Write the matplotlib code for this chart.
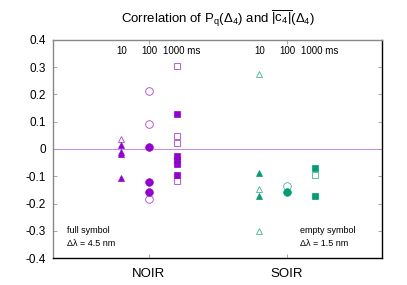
import matplotlib
matplotlib.use("Agg")
import matplotlib.pyplot as plt

plt.rcParams['font.family'] = ['Liberation Sans', 'DejaVu Sans']
plt.rcParams['mathtext.fontset'] = 'custom'
plt.rcParams['mathtext.rm'] = 'Liberation Sans'
plt.rcParams['mathtext.it'] = 'Liberation Sans'

categories = ["NOIR", "SOIR"]
timescales = ["10", "100", "1000 ms"]
yticks = [-0.4, -0.3, -0.2, -0.1, 0, 0.1, 0.2, 0.3, 0.4]

# full symbol: dl = 4.5 nm, empty symbol: dl = 1.5 nm
noir_tri_full = [0.015, -0.01, -0.02, -0.105]
noir_tri_empty = [0.035]
noir_circ_full = [0.008, -0.12, -0.157]
noir_circ_empty = [0.213, 0.092, -0.185]
noir_sq_full = [0.128, -0.025, -0.04, -0.055, -0.095]
noir_sq_empty = [0.305, 0.048, 0.022, -0.117]

soir_tri_full = [-0.088, -0.172]
soir_tri_empty = [0.275, -0.147, -0.30]
soir_circ_full = [-0.157]
soir_circ_empty = [-0.136]
soir_sq_full = [-0.07, -0.172]
soir_sq_empty = [-0.095]

purple = "#9400d3"
green = "#009e73"
offsets = [-0.2, 0.0, 0.2]
markers = ["^", "o", "s"]
sizes = [5, 5.5, 5]

fig = plt.figure(figsize=(4.07, 2.85), dpi=100)
ax = fig.add_axes([0.130, 0.0947, 0.8086, 0.765])

groups = [
    (1, purple, [noir_tri_full, noir_circ_full, noir_sq_full],
     [noir_tri_empty, noir_circ_empty, noir_sq_empty]),
    (2, green, [soir_tri_full, soir_circ_full, soir_sq_full],
     [soir_tri_empty, soir_circ_empty, soir_sq_empty]),
]

ax.axhline(0, color=purple, lw=0.6, alpha=0.55, zorder=1)

for xc, col, fulls, empties in groups:
    for i in range(3):
        x = xc + offsets[i]
        e = empties[i]
        f = fulls[i]
        ax.plot([x] * len(e), e, linestyle="none", marker=markers[i],
                ms=sizes[i], mfc="white", mec=col, mew=0.6, alpha=0.75, zorder=2)
        ax.plot([x] * len(f), f, linestyle="none", marker=markers[i],
                ms=sizes[i], mfc=col, mec=col, mew=0.5, zorder=3)
    for i, lab in enumerate(timescales):
        if lab == "1000 ms":
            ax.annotate(lab, (xc + offsets[i], 0.4), xytext=(-10, -8),
                        textcoords="offset points", ha="left", va="center",
                        fontsize=7)
        else:
            ax.annotate(lab, (xc + offsets[i], 0.4), xytext=(0, -8),
                        textcoords="offset points", ha="center", va="center",
                        fontsize=7)

ax.set_xlim(0.304, 2.688)
ax.set_ylim(-0.4, 0.4)
ax.set_yticks(yticks)
ax.set_yticklabels(["-0.4", "-0.3", "-0.2", "-0.1", "0", "0.1", "0.2", "0.3", "0.4"])
ax.set_xticks([1, 2])
ax.set_xticklabels(categories)
ax.tick_params(axis="y", direction="in", length=3, width=0.6, color="#999999",
               labelsize=8.5, pad=5, right=True)
ax.tick_params(axis="x", direction="in", length=3, width=0.6, color="#999999",
               labelsize=9.5, pad=7, top=True)

ax.spines["top"].set_color("#888888")
ax.spines["left"].set_color("#888888")
ax.spines["top"].set_linewidth(1.0)
ax.spines["left"].set_linewidth(1.0)
ax.spines["right"].set_color("black")
ax.spines["bottom"].set_color("black")
ax.spines["right"].set_linewidth(1.0)
ax.spines["bottom"].set_linewidth(1.0)

ytr = ax.get_yaxis_transform()
ax.text(0.043, -0.3, "full symbol", fontsize=6.5, va="center", transform=ytr)
ax.text(0.043, -0.345, "\u0394\u03bb = 4.5 nm", fontsize=6.5, va="center", transform=ytr)
ax.text(0.75, -0.3, "empty symbol", fontsize=6.5, va="center", transform=ytr)
ax.text(0.75, -0.345, "\u0394\u03bb = 1.5 nm", fontsize=6.5, va="center", transform=ytr)

fig.text(0.536, 0.933,
         r"Correlation of $\mathrm{P_q(\Delta_4)}$ and $\mathrm{\overline{|c_4|}(\Delta_4)}$",
         ha="center", va="center", fontsize=9.5)

fig.savefig("out.png", dpi=100)
